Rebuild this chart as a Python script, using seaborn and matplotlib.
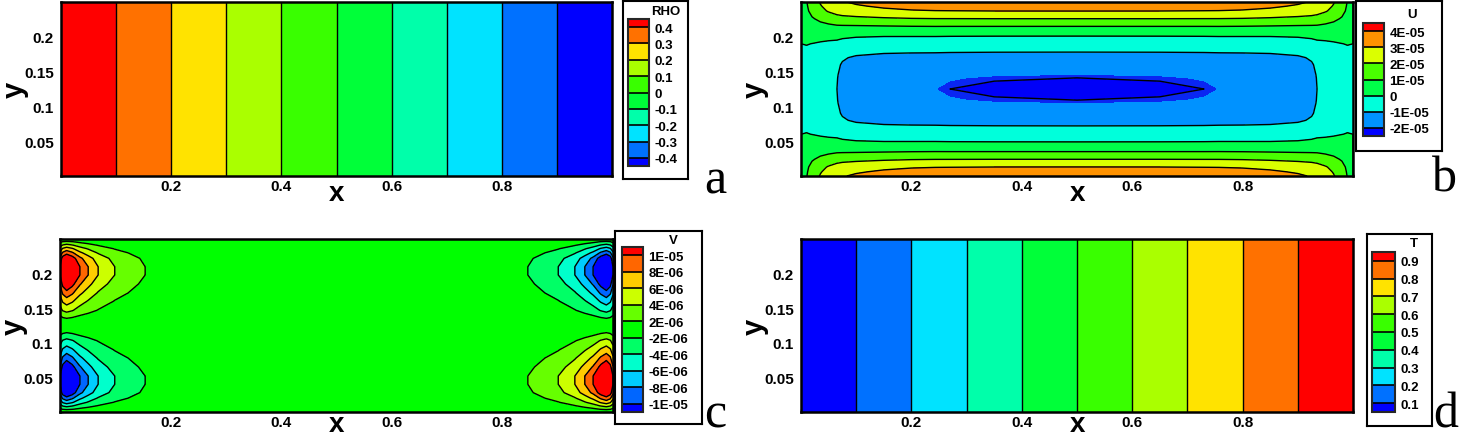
import numpy as np
import matplotlib
matplotlib.use("Agg")
import matplotlib.pyplot as plt
import matplotlib.colors as mcolors
from matplotlib.cm import ScalarMappable
from matplotlib.ticker import MultipleLocator
import seaborn as sns

sns.set_style("white")
plt.rcParams['font.family'] = ['Liberation Sans', 'DejaVu Sans']
plt.rcParams['font.weight'] = 'bold'
plt.rcParams['text.color'] = 'black'
plt.rcParams['axes.labelcolor'] = 'black'
plt.rcParams['xtick.color'] = 'black'
plt.rcParams['ytick.color'] = 'black'
plt.rcParams['contour.negative_linestyle'] = 'solid'

# ---------------- data ----------------
# (a) density, linear across the channel length
rho_x = [0.0, 1.0]
rho_vals = [0.5, -0.5]
rho_levels = [-0.4, -0.3, -0.2, -0.1, 0.0, 0.1, 0.2, 0.3, 0.4]
rho_labels = ['-0.4', '-0.3', '-0.2', '-0.1', '0', '0.1', '0.2', '0.3', '0.4']

# (d) temperature, linear across the channel length
t_x = [0.0, 1.0]
t_vals = [0.0, 1.0]
t_levels = [0.1, 0.2, 0.3, 0.4, 0.5, 0.6, 0.7, 0.8, 0.9]
t_labels = ['0.1', '0.2', '0.3', '0.4', '0.5', '0.6', '0.7', '0.8', '0.9']

# (b) U velocity: wall part + core part (values x 1E-05)
u_x = [0, 0.01, 0.02, 0.035, 0.05, 0.065, 0.075, 0.1, 0.15, 0.2, 0.243, 0.27, 0.35,
       0.5, 0.65, 0.73, 0.757, 0.8, 0.85, 0.9, 0.925, 0.935, 0.95, 0.965, 0.98, 0.99, 1.0]
u_env_core = [0, 0.07, 0.15, 0.27, 0.38, 0.47, 0.6, 0.76, 0.89, 0.93, 0.943, 0.967, 0.99,
              1.0, 0.99, 0.967, 0.943, 0.93, 0.89, 0.76, 0.6, 0.47, 0.38, 0.27, 0.15, 0.07, 0]
u_env_wall = [0, 0.25, 0.4, 0.55, 0.66, 0.75, 0.8, 0.86, 0.93, 0.97, 0.985, 0.99, 0.998,
              1.0, 0.998, 0.99, 0.985, 0.97, 0.93, 0.86, 0.8, 0.75, 0.66, 0.55, 0.4, 0.25, 0]
u_y = [0, 0.006, 0.013, 0.024, 0.035, 0.049, 0.06, 0.072, 0.08, 0.09, 0.104, 0.109, 0.125,
       0.141, 0.146, 0.16, 0.17, 0.178, 0.19, 0.201, 0.215, 0.226, 0.237, 0.244, 0.25]
u_core = [-0.30, -0.32, -0.35, -0.42, -0.50, -0.62, -0.78, -1.00, -1.50, -1.80, -2.00, -2.05, -2.12,
          -2.05, -2.00, -1.80, -1.50, -1.00, -0.78, -0.62, -0.50, -0.42, -0.35, -0.32, -0.30]
u_wall = [3.90, 3.67, 3.35, 2.42, 1.50, 0.62, 0.28, 0, 0, 0, 0, 0, 0,
          0, 0, 0, 0, 0, 0.28, 0.62, 1.50, 2.42, 3.35, 3.67, 3.90]
u_levels = [-2e-5, -1e-5, 0.0, 1e-5, 2e-5, 3e-5, 4e-5]
u_labels = ['-2E-05', '-1E-05', '0', '1E-05', '2E-05', '3E-05', '4E-05']
u_core_line = -2.05e-5

# (c) V velocity (values x 1E-05)
v_x = [0, 0.005, 0.012, 0.022, 0.036, 0.051, 0.069, 0.099, 0.154, 0.22, 0.3, 0.5,
       0.7, 0.78, 0.846, 0.901, 0.931, 0.949, 0.964, 0.978, 0.988, 0.995, 1.0]
v_env = [1.0, 1.3, 1.45, 1.3, 1.0, 0.8, 0.6, 0.4, 0.2, 0.08, 0.02, 0.0,
         -0.02, -0.08, -0.2, -0.4, -0.6, -0.8, -1.0, -1.3, -1.45, -1.3, -1.0]
v_y = [0, 0.004, 0.009, 0.014, 0.020, 0.028, 0.040, 0.052, 0.065, 0.078, 0.090, 0.103, 0.113, 0.125,
       0.137, 0.147, 0.160, 0.172, 0.185, 0.198, 0.210, 0.222, 0.230, 0.236, 0.241, 0.246, 0.25]
v_prof = [0, -0.16, -0.32, -0.48, -0.64, -0.85, -1.0, -1.0, -0.82, -0.64, -0.48, -0.32, -0.16, 0,
          0.16, 0.32, 0.48, 0.64, 0.82, 1.0, 1.0, 0.85, 0.64, 0.48, 0.32, 0.16, 0]
v_levels = [-1e-5, -8e-6, -6e-6, -4e-6, -2e-6, 2e-6, 4e-6, 6e-6, 8e-6, 1e-5]
v_labels = ['-1E-05', '-8E-06', '-6E-06', '-4E-06', '-2E-06', '2E-06', '4E-06', '6E-06', '8E-06', '1E-05']

panel_letters = ['a', 'b', 'c', 'd']

# ---------------- helpers ----------------
W, H = 1459, 439


def px_rect(x0, y0, x1, y1):
    return [x0 / W, 1 - y1 / H, (x1 - x0) / W, (y1 - y0) / H]


def rainbow(n):
    hues = np.linspace(240, 0, n) / 360.0
    return [mcolors.hsv_to_rgb((h, 1.0, 1.0)) for h in hues]


def style_axes(ax, xlabel_y):
    ax.set_xlim(0, 1)
    ax.set_ylim(0, 0.25)
    ax.set_xticks([0.2, 0.4, 0.6, 0.8])
    ax.set_xticklabels(['0.2', '0.4', '0.6', '0.8'])
    ax.set_yticks([0.05, 0.1, 0.15, 0.2])
    ax.set_yticklabels(['0.05', '0.1', '0.15', '0.2'])
    ax.xaxis.set_minor_locator(MultipleLocator(0.05))
    ax.yaxis.set_minor_locator(MultipleLocator(0.01))
    ax.tick_params(which='both', direction='in', bottom=True, left=True, top=False, right=False,
                   width=1, color='black')
    ax.tick_params(which='major', length=4, labelsize=11)
    ax.tick_params(which='minor', length=2.5)
    ax.tick_params(axis='x', which='major', pad=2)
    ax.tick_params(axis='y', which='major', pad=5)
    for s in ax.spines.values():
        s.set_linewidth(1.8)
        s.set_color('black')
        s.set_zorder(5)
    ax.set_xlabel('x', fontsize=20, fontweight='bold')
    ax.xaxis.label.set_va('baseline')
    ax.set_ylabel('y', fontsize=21, fontweight='bold')
    ax.xaxis.set_label_coords(0.5, xlabel_y)
    ax.yaxis.set_label_coords(-0.058, 0.5)


def legend_box(fig, box, cbar, title, title_xy, colors, levels, labels):
    bax = fig.add_axes(px_rect(*box))
    bax.set_xticks([])
    bax.set_yticks([])
    bax.set_facecolor('white')
    for s in bax.spines.values():
        s.set_linewidth(1.5)
        s.set_color('black')
    cax = fig.add_axes(px_rect(*cbar))
    cmap = mcolors.ListedColormap(colors[1:-1])
    cmap.set_under(colors[0])
    cmap.set_over(colors[-1])
    norm = mcolors.BoundaryNorm(levels, cmap.N)
    cb = fig.colorbar(ScalarMappable(norm=norm, cmap=cmap), cax=cax, extend='both',
                      extendrect=True, extendfrac=0.5 / (len(levels) - 1),
                      spacing='uniform', drawedges=True, ticks=levels)
    cb.set_ticklabels(labels)
    cb.ax.tick_params(length=0, labelsize=9.5, pad=4)
    for t in cb.ax.get_yticklabels():
        t.set_fontweight('bold')
    cb.outline.set_linewidth(1.5)
    cb.dividers.set_color('black')
    cb.dividers.set_linewidth(1.2)
    fig.text(title_xy[0] / W, 1 - title_xy[1] / H, title, ha='center', va='center',
             fontsize=9.5, fontweight='bold')


fig = plt.figure(figsize=(W / 100, H / 100), dpi=100)

top_xlabel = -(201 - 177) / 174
bot_xlabel = -(432 - 413) / 173

# ---- (a) RHO ----
ax_a = fig.add_axes(px_rect(61, 3, 612, 177))
rho_grid = np.outer(np.ones(2), rho_vals)
cols_a = rainbow(10)
ax_a.contourf(rho_x, [0, 0.25], rho_grid, levels=[-1.0] + rho_levels + [1.0], colors=cols_a)
ax_a.contour(rho_x, [0, 0.25], rho_grid, levels=rho_levels, colors='black', linewidths=1.0,
             linestyles='solid')
style_axes(ax_a, top_xlabel)
legend_box(fig, (623, 2, 688, 180), (628, 20, 649, 167), 'RHO', (666, 12), cols_a,
           rho_levels, rho_labels)

# ---- (b) U ----
ax_b = fig.add_axes(px_rect(801, 3, 1353, 177))
u_grid = (np.outer(u_wall, u_env_wall) + np.outer(u_core, u_env_core)) * 1e-5
cols_b = rainbow(8)
flood_b = [-1e-4, u_core_line] + u_levels + [1e-4]
flood_cols_b = ['#0000f8', '#0a26f2'] + cols_b[1:]
ax_b.contourf(u_x, u_y, u_grid, levels=flood_b, colors=flood_cols_b)
ax_b.contour(u_x, u_y, u_grid, levels=[u_core_line] + u_levels[1:-1], colors='black',
             linewidths=1.0, linestyles='solid')
style_axes(ax_b, top_xlabel)
legend_box(fig, (1356, 2, 1442, 152), (1363, 24, 1384, 137), 'U', (1412, 15), cols_b,
           u_levels, u_labels)

# ---- (c) V ----
ax_c = fig.add_axes(px_rect(60, 240, 613, 413))
v_grid = np.outer(v_prof, v_env) * 1e-5
cols_c = rainbow(11)
ax_c.contourf(v_x, v_y, v_grid, levels=[-1e-4] + v_levels + [1e-4], colors=cols_c)
ax_c.contour(v_x, v_y, v_grid, levels=v_levels, colors='black', linewidths=1.0,
             linestyles='solid')
style_axes(ax_c, bot_xlabel)
legend_box(fig, (615, 232, 702, 425), (622, 248, 643, 413), 'V', (673, 241), cols_c,
           v_levels, v_labels)

# ---- (d) T ----
ax_d = fig.add_axes(px_rect(801, 240, 1353, 413))
t_grid = np.outer(np.ones(2), t_vals)
cols_d = rainbow(10)
ax_d.contourf(t_x, [0, 0.25], t_grid, levels=[-1.0] + t_levels + [2.0], colors=cols_d)
ax_d.contour(t_x, [0, 0.25], t_grid, levels=t_levels, colors='black', linewidths=1.0,
             linestyles='solid')
style_axes(ax_d, bot_xlabel)
legend_box(fig, (1367, 235, 1432, 427), (1372, 253, 1395, 413), 'T', (1414, 244), cols_d,
           t_levels, t_labels)

# panel letters
letter_pos = [(704, 194), (1432, 192), (704, 428), (1433, 428)]
for lt, (lx, ly) in zip(panel_letters, letter_pos):
    fig.text(lx / W, 1 - ly / H, lt, ha='left', va='baseline', fontsize=36,
             fontweight='normal', family='Liberation Serif')

fig.savefig('out.png', dpi=100)
